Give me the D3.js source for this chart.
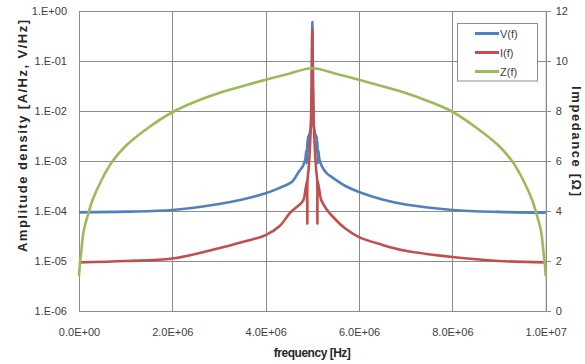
<!DOCTYPE html>
<html>
<head>
<meta charset="utf-8">
<script src="https://cdn.jsdelivr.net/npm/d3@7"></script>
<style>
  html, body { margin: 0; padding: 0; background: #fff; }
  svg { display: block; }
  text { font-family: "Liberation Sans", Arial, sans-serif; }
</style>
</head>
<body>
<svg id="chart" width="585" height="364"></svg>
<script>
// ---------------- DATA ----------------
// Impedance curve (frequency in Hz, impedance in ohm)
const freqZ = [0, 2e4, 5e4, 1e5, 2e5, 2.9e5, 5e5, 7.1e5, 1e6, 1.5e6, 2e6, 2.5e6, 3e6, 3.5e6, 4e6, 4.5e6, 5e6,
               5.5e6, 6e6, 6.5e6, 7e6, 7.5e6, 8e6, 8.5e6, 9e6, 9.29e6, 9.5e6, 9.71e6, 9.8e6, 9.9e6, 9.95e6, 9.98e6, 1e7];
const zValues = [1.4, 1.9, 2.4, 3.2, 3.9, 4.44, 5.3, 5.97, 6.6, 7.35, 7.95, 8.38, 8.72, 8.99, 9.25, 9.49, 9.71,
                 9.49, 9.25, 8.99, 8.72, 8.38, 7.97, 7.35, 6.6, 5.97, 5.3, 4.44, 3.9, 3.2, 2.4, 1.9, 1.4];

// Voltage amplitude density V(f)
const freqV = [0, 1e6, 2e6, 3e6, 3.5e6, 4e6, 4.3e6, 4.57e6, 4.71e6, 4.8e6, 4.85e6, 4.87e6, 4.88e6, 4.89e6, 4.9e6, 4.91e6,
               4.94e6, 4.97e6, 4.985e6, 5e6, 5.015e6, 5.03e6, 5.06e6, 5.09e6, 5.1e6, 5.11e6, 5.12e6, 5.13e6, 5.15e6,
               5.2e6, 5.3e6, 5.44e6, 5.7e6, 6e6, 6.5e6, 7e6, 8e6, 9e6, 1e7];
const vValues = [9.4e-5, 9.7e-5, 1.05e-4, 1.38e-4, 1.7e-4, 2.26e-4, 2.9e-4, 3.9e-4, 6.1e-4, 8e-4, 1.1e-3, 1.6e-3, 9e-4, 2.5e-3, 1.5e-3, 3e-3,
                 3.5e-3, 5e-3, 2e-2, 0.6, 2e-2, 5e-3, 3.5e-3, 3e-3, 1.5e-3, 2.5e-3, 9e-4, 1.6e-3, 1.1e-3,
                 8e-4, 5.8e-4, 4.6e-4, 3.2e-4, 2.4e-4, 1.7e-4, 1.35e-4, 1.05e-4, 9.6e-5, 9.3e-5];

// Current amplitude density I(f)
const freqI = [0, 1e6, 2e6, 3e6, 3.5e6, 4e6, 4.3e6, 4.53e6, 4.71e6, 4.81e6, 4.85e6, 4.875e6, 4.888e6, 4.892e6, 4.896e6,
               4.92e6, 4.95e6, 4.97e6, 4.985e6, 5e6, 5.015e6, 5.03e6, 5.05e6, 5.08e6, 5.104e6, 5.108e6, 5.112e6,
               5.125e6, 5.15e6, 5.19e6, 5.3e6, 5.45e6, 5.7e6, 6e6, 6.5e6, 7e6, 8e6, 9e6, 1e7];
const iValues = [9.4e-6, 1.0e-5, 1.12e-5, 1.8e-5, 2.4e-5, 3.3e-5, 5e-5, 9.4e-5, 1.3e-4, 1.66e-4, 2.6e-4, 3.5e-4, 4e-4, 5.6e-5, 4e-4,
                 7e-4, 2e-3, 6e-3, 3e-2, 0.45, 3e-2, 6e-3, 2e-3, 7e-4, 4e-4, 5.6e-5, 4e-4,
                 3.5e-4, 2.6e-4, 1.66e-4, 1.1e-4, 7.5e-5, 4.5e-5, 3e-5, 2.1e-5, 1.6e-5, 1.2e-5, 1e-5, 9.4e-6];

// Axis ticks and labels
const leftTicks = [1, 1e-1, 1e-2, 1e-3, 1e-4, 1e-5, 1e-6];
const leftTickLabels = ["1.E+00", "1.E-01", "1.E-02", "1.E-03", "1.E-04", "1.E-05", "1.E-06"];
const bottomTicks = [0, 2e6, 4e6, 6e6, 8e6, 1e7];
const bottomTickLabels = ["0.0E+00", "2.0E+06", "4.0E+06", "6.0E+06", "8.0E+06", "1.0E+07"];
const rightTicks = [0, 2, 4, 6, 8, 10, 12];
const rightTickLabels = ["0", "2", "4", "6", "8", "10", "12"];

const seriesNames = ["V(f)", "I(f)", "Z(f)"];
const seriesColors = ["#4F81BD", "#C0504D", "#9BBB59"];

// ---------------- LAYOUT ----------------
const W = 585, H = 364;
const x0 = 79, x1 = 545.7, y0 = 11, y1 = 311;
const gridColor = "#8c8c8c";
const labelColor = "#404040";

const svg = d3.select("#chart");

const x = d3.scaleLinear().domain([0, 1e7]).range([x0, x1]);
const yL = d3.scaleLog().domain([1e-6, 1]).range([y1, y0]);
const yR = d3.scaleLinear().domain([0, 12]).range([y1, y0]);

// Grid lines
const gridH = svg.append("g").attr("transform", `translate(${x0},0)`)
  .call(d3.axisLeft(yL).tickValues(leftTicks).tickSize(-(x1 - x0)).tickFormat(""));
gridH.select(".domain").remove();
gridH.selectAll("line").attr("stroke", gridColor).attr("stroke-width", 1).attr("shape-rendering", "crispEdges");

const gridV = svg.append("g").attr("transform", `translate(0,${y1})`)
  .call(d3.axisBottom(x).tickValues(bottomTicks).tickSize(-(y1 - y0)).tickFormat(""));
gridV.select(".domain").remove();
gridV.selectAll("line").attr("stroke", gridColor).attr("stroke-width", 1).attr("shape-rendering", "crispEdges");

// Left axis labels
const axL = svg.append("g").attr("transform", `translate(${x0},0)`)
  .call(d3.axisLeft(yL).tickValues(leftTicks).tickSize(0).tickPadding(12)
    .tickFormat((d, i) => leftTickLabels[i]));
axL.select(".domain").remove();
axL.selectAll("text").attr("font-size", 11).attr("fill", labelColor)
  .attr("font-family", "'Liberation Sans', Arial, sans-serif");

// Bottom axis labels
const axB = svg.append("g").attr("transform", `translate(0,${y1})`)
  .call(d3.axisBottom(x).tickValues(bottomTicks).tickSize(0).tickPadding(17)
    .tickFormat((d, i) => bottomTickLabels[i]));
axB.select(".domain").remove();
axB.selectAll("text").attr("font-size", 11).attr("fill", labelColor)
  .attr("font-family", "'Liberation Sans', Arial, sans-serif");

// Right axis
const axR = svg.append("g").attr("transform", `translate(${x1},0)`)
  .call(d3.axisRight(yR).tickValues(rightTicks).tickSize(5).tickPadding(5)
    .tickFormat((d, i) => rightTickLabels[i]));
axR.select(".domain").attr("stroke", gridColor);
axR.selectAll("line").attr("stroke", gridColor).attr("shape-rendering", "crispEdges");
axR.selectAll("text").attr("font-size", 11).attr("fill", labelColor)
  .attr("font-family", "'Liberation Sans', Arial, sans-serif");

// ---------------- SERIES ----------------
const plot = svg.append("g");
const lineVI = d3.line().x(d => x(d[0])).y(d => yL(d[1])).curve(d3.curveCatmullRom.alpha(0.5));
const lineZ = d3.line().x(d => x(d[0])).y(d => yR(d[1])).curve(d3.curveCatmullRom.alpha(0.5));

plot.append("path").datum(d3.zip(freqV, vValues)).attr("d", lineVI)
  .attr("fill", "none").attr("stroke", seriesColors[0]).attr("stroke-width", 2.6).attr("stroke-linejoin", "round");
plot.append("path").datum(d3.zip(freqI, iValues)).attr("d", lineVI)
  .attr("fill", "none").attr("stroke", seriesColors[1]).attr("stroke-width", 2.6).attr("stroke-linejoin", "round");
plot.append("path").datum(d3.zip(freqZ, zValues)).attr("d", lineZ)
  .attr("fill", "none").attr("stroke", seriesColors[2]).attr("stroke-width", 2.6).attr("stroke-linejoin", "round");

// ---------------- TITLES ----------------
svg.append("text")
  .attr("transform", `translate(22,136) rotate(-90)`)
  .attr("text-anchor", "middle").attr("dominant-baseline", "central")
  .attr("font-size", 13).attr("font-weight", "bold").attr("fill", "#262626")
  .attr("textLength", 232).attr("lengthAdjust", "spacing")
  .text("Amplitude density [A/Hz, V/Hz]");

svg.append("text")
  .attr("transform", `translate(576,141) rotate(90)`)
  .attr("text-anchor", "middle").attr("dominant-baseline", "central")
  .attr("font-size", 13).attr("font-weight", "bold").attr("fill", "#262626")
  .attr("textLength", 110).attr("lengthAdjust", "spacing")
  .text("Impedance [Ω]");

svg.append("text")
  .attr("x", (x0 + x1) / 2).attr("y", 353)
  .attr("text-anchor", "middle").attr("dominant-baseline", "central")
  .attr("font-size", 12).attr("font-weight", "bold").attr("fill", "#262626")
  .attr("textLength", 77).attr("lengthAdjust", "spacing")
  .text("frequency [Hz]");

// ---------------- LEGEND ----------------
const lg = svg.append("g");
lg.append("rect").attr("x", 457.5).attr("y", 23.5).attr("width", 80).attr("height", 57.5)
  .attr("fill", "#fff").attr("stroke", gridColor).attr("stroke-width", 1);
const legendY = [33.5, 52.5, 71.5];
seriesNames.forEach((name, i) => {
  lg.append("line").attr("x1", 475).attr("x2", 499).attr("y1", legendY[i]).attr("y2", legendY[i])
    .attr("stroke", seriesColors[i]).attr("stroke-width", 3);
  lg.append("text").attr("x", 500).attr("y", legendY[i]).attr("dominant-baseline", "central")
    .attr("font-size", 11).attr("fill", labelColor).text(name);
});
</script>
</body>
</html>
